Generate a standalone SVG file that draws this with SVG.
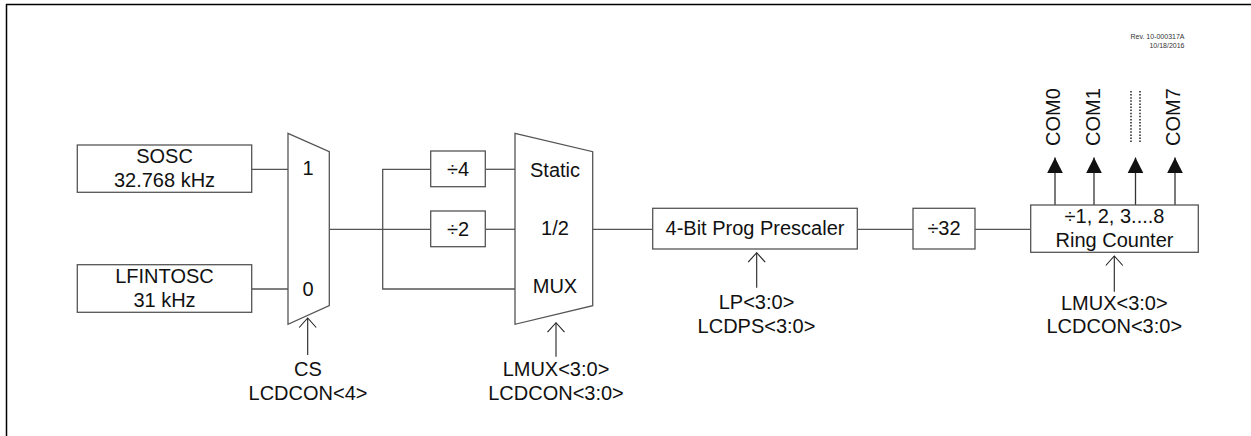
<svg xmlns="http://www.w3.org/2000/svg" width="1251" height="436" viewBox="0 0 1251 436">
<defs>
<style>
text{font-family:"Liberation Sans",Arial,sans-serif;font-size:20px;fill:#111;text-anchor:middle}
.box{fill:#fff;stroke:#555;stroke-width:1.3}
.wire{fill:none;stroke:#555;stroke-width:1.3}
.ctl{fill:none;stroke:#222;stroke-width:1.1}
.out{fill:none;stroke:#333;stroke-width:1.3}
.rev{font-size:7px;text-anchor:end;fill:#333}
.dot{stroke:#222;stroke-width:1.5;stroke-dasharray:1.5 1.6}
</style>
<marker id="open" markerUnits="userSpaceOnUse" markerWidth="24" markerHeight="24" viewBox="-12 -12 24 24" refX="0" refY="0" orient="auto">
<path d="M -9.5 -8.5 L 0 0 L -9.5 8.5" fill="none" stroke="#222" stroke-width="1.1"/>
</marker>
<marker id="solid" markerUnits="userSpaceOnUse" markerWidth="24" markerHeight="24" viewBox="-14 -10 16 20" refX="0" refY="0" orient="auto">
<path d="M -13 -6.5 L 0 0 L -13 6.5 Z" fill="#111"/>
</marker>
</defs>
<g id="frame">
<line x1="6" y1="4.5" x2="1251" y2="4.5" stroke="#000" stroke-width="1.5"/>
<line x1="6.5" y1="4" x2="6.5" y2="436" stroke="#000" stroke-width="1.5"/>
<text class="rev" x="1184.5" y="39">Rev. 10-000317A</text>
<text class="rev" x="1184.5" y="47.5">10/18/2016</text>
</g>
<g id="connectors">
<line class="wire" x1="252" y1="169.3" x2="288" y2="169.3"/>
<line class="wire" x1="252" y1="289" x2="288" y2="289"/>
<line class="wire" x1="329.3" y1="229.3" x2="431" y2="229.3"/>
<polyline class="wire" points="431,169.3 382.7,169.3 382.7,289 515,289"/>
<line class="wire" x1="485.3" y1="169.3" x2="515" y2="169.3"/>
<line class="wire" x1="485.3" y1="229.3" x2="515" y2="229.3"/>
<line class="wire" x1="592.7" y1="229.3" x2="652.7" y2="229.3"/>
<line class="wire" x1="857.3" y1="229.3" x2="913" y2="229.3"/>
<line class="wire" x1="975" y1="229.3" x2="1030.7" y2="229.3"/>
<line class="ctl" x1="307.7" y1="355" x2="307.7" y2="318" marker-end="url(#open)"/>
<line class="ctl" x1="556" y1="356.7" x2="556" y2="322.7" marker-end="url(#open)"/>
<line class="ctl" x1="756.7" y1="287.7" x2="756.7" y2="252.7" marker-end="url(#open)"/>
<line class="ctl" x1="1114.3" y1="291.7" x2="1114.3" y2="256" marker-end="url(#open)"/>
<line class="out" x1="1055" y1="205" x2="1055" y2="157.5" marker-end="url(#solid)"/>
<line class="out" x1="1094" y1="205" x2="1094" y2="157.5" marker-end="url(#solid)"/>
<line class="out" x1="1135.5" y1="205" x2="1135.5" y2="157.5" marker-end="url(#solid)"/>
<line class="out" x1="1175" y1="205" x2="1175" y2="157.5" marker-end="url(#solid)"/>
</g>
<g id="sosc">
<rect class="box" x="77.3" y="145" width="174.4" height="47.3"/>
<text x="164.5" y="163.3">SOSC</text>
<text x="164.5" y="187.3">32.768 kHz</text>
</g>
<g id="lfintosc">
<rect class="box" x="77.3" y="264.7" width="174.4" height="47.6"/>
<text x="164.5" y="283.3">LFINTOSC</text>
<text x="164.5" y="307.3">31 kHz</text>
</g>
<g id="mux1">
<polygon class="box" points="288,133.3 329.3,151.7 329.3,305.7 288,324.3"/>
<text x="308" y="175">1</text>
<text x="308" y="296">0</text>
<text x="308" y="376">CS</text>
<text x="308" y="400">LCDCON&lt;4&gt;</text>
</g>
<g id="div4">
<rect class="box" x="430.7" y="151" width="54.6" height="35.7"/>
<text x="458" y="175.5">÷4</text>
</g>
<g id="div2">
<rect class="box" x="430.7" y="211" width="54.6" height="35.7"/>
<text x="458" y="235.5">÷2</text>
</g>
<g id="mux2">
<polygon class="box" points="515,133.3 592.7,151.7 592.7,305.7 515,324.3"/>
<text x="555" y="177.3">Static</text>
<text x="555" y="235">1/2</text>
<text x="555" y="293.3">MUX</text>
<text x="556" y="376">LMUX&lt;3:0&gt;</text>
<text x="556" y="399.5">LCDCON&lt;3:0&gt;</text>
</g>
<g id="prescaler">
<rect class="box" x="652.7" y="208.3" width="204.6" height="40.7"/>
<text x="755" y="235">4-Bit Prog Prescaler</text>
<text x="756.5" y="309">LP&lt;3:0&gt;</text>
<text x="756.5" y="333">LCDPS&lt;3:0&gt;</text>
</g>
<g id="div32">
<rect class="box" x="913" y="208.3" width="62" height="40.7"/>
<text x="944" y="235">÷32</text>
</g>
<g id="ring">
<rect class="box" x="1030.7" y="205" width="167.6" height="47.3"/>
<text x="1114.5" y="222.7">÷1, 2, 3....8</text>
<text x="1114.5" y="246.7">Ring Counter</text>
<text x="1114.3" y="310">LMUX&lt;3:0&gt;</text>
<text x="1114.3" y="333.3">LCDCON&lt;3:0&gt;</text>
</g>
<g id="outputs">
<text transform="translate(1060,117) rotate(-90)">COM0</text>
<text transform="translate(1100,117) rotate(-90)">COM1</text>
<line class="dot" x1="1131" y1="91" x2="1131" y2="143"/>
<line class="dot" x1="1140" y1="91" x2="1140" y2="143"/>
<text transform="translate(1180,117) rotate(-90)">COM7</text>
</g>
</svg>
